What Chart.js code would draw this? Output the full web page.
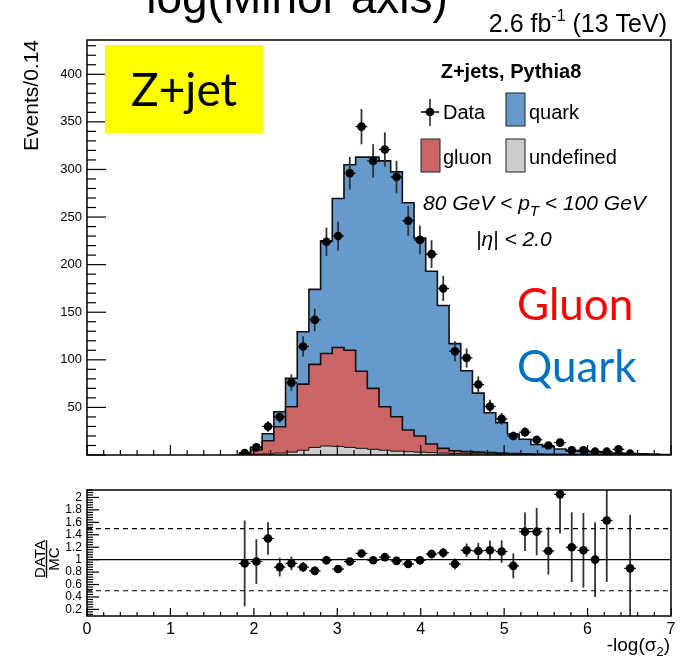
<!DOCTYPE html>
<html>
<head>
<meta charset="utf-8">
<script src="https://cdn.jsdelivr.net/npm/chart.js@4.4.1/dist/chart.umd.min.js"></script>
<style>
  body { margin: 0; background: #fff; width: 686px; height: 668px; position: relative; overflow: hidden; }
  canvas { position: absolute; left: 0; }
  #main { top: 0; }
  #ratio { top: 470px; }
</style>
</head>
<body>
<canvas id="main" width="686" height="470"></canvas>
<canvas id="ratio" width="686" height="198"></canvas>
<script>
// bins (lower edges) of -log(sigma2), width 0.14
const binLo = [1.82, 1.96, 2.10, 2.24, 2.38, 2.52, 2.66, 2.80, 2.94, 3.08,
  3.22, 3.36, 3.50, 3.64, 3.78, 3.92, 4.06, 4.20, 4.34, 4.48,
  4.62, 4.76, 4.90, 5.04, 5.18, 5.32, 5.46, 5.60, 5.74, 5.88,
  6.02, 6.16, 6.30, 6.44, 6.58, 6.72, 6.86];
const binWidth = 0.14;

const dataEvents = [2, 8, 30, 40, 76, 114, 142, 224, 230, 296,
  345, 309, 321, 292, 246, 226, 211, 175, 109, 102,
  74, 51, 38, 20, 24, 16, 10, 13, 5, 5,
  3.5, 3.5, 6, 1.4, null, null, null];

const undefinedMC = [0.3, 0.8, 1.2, 2, 3, 5, 8, 9.5, 9, 8,
  7, 6, 5, 4, 3.5, 3, 2.5, 2, 1.6, 1.3,
  1.1, 1, 0.8, 0.7, 0.6, 0.5, 0.4, 0.35, 0.3, 0.25,
  0.2, 0.2, 0.15, 0.1, 0.1, 0.1, 0.05];
const gluonMC = [0.9, 4.7, 13.8, 27.7, 47.7, 69.5, 87.2, 97.2, 104, 102,
  81, 64, 45.7, 36.2, 22.7, 17, 9, 5, 2.9, 2.2,
  1.9, 1.5, 1.2, 0.8, 0.6, 0.5, 0.4, 0.35, 0.3, 0.25,
  0.2, 0.2, 0.15, 0.2, 0.1, 0.1, 0.05];
const quarkMC = [0.9, 2.7, 7.4, 15.8, 29.8, 55, 78.8, 118.3, 156.5, 195,
  225, 243, 258.3, 257.3, 238.8, 208, 181.5, 150, 112.5, 85,
  62, 41.9, 32, 20.5, 15.3, 10, 8, 5.6, 3.6, 3.5,
  3.1, 1.7, 1.7, 1.3, 1.0, 0.7, 0.5];

// DATA/MC
const ratioVals = [0.94, 0.97, 1.34, 0.88, 0.94, 0.88, 0.82, 0.99, 0.85, 0.97,
  1.10, 0.99, 1.04, 0.98, 0.93, 0.99, 1.09, 1.11, 0.93, 1.15,
  1.14, 1.15, 1.13, 0.90, 1.45, 1.45, 1.14, 2.05, 1.20, 1.15,
  1.00, 1.63, null, 0.86, null, null, null];
const ratioErr = [0.69, 0.36, 0.26, 0.15, 0.11, 0.08, 0.07, 0.07, 0.06, 0.06,
  0.06, 0.06, 0.06, 0.06, 0.06, 0.07, 0.07, 0.08, 0.09, 0.11,
  0.13, 0.16, 0.18, 0.20, 0.31, 0.38, 0.38, 0.63, 0.56, 0.60,
  0.60, 0.99, null, 0.86, null, null, null];

const mainYTicks = [50, 100, 150, 200, 250, 300, 350, 400];
const ratioYTicks = [0.2, 0.4, 0.6, 0.8, 1, 1.2, 1.4, 1.6, 1.8, 2];
const xTicks = [0, 1, 2, 3, 4, 5, 6, 7];

const HELV = "'Liberation Sans', Arial, sans-serif";
const CALIBRI = "Lato, 'Open Sans', sans-serif";
Chart.defaults.font.family = HELV;
Chart.defaults.color = '#000';

const centers = binLo.map(x => x + binWidth / 2);

// stacked histogram tops
const greyTop = undefinedMC;
const redTop = greyTop.map((v, i) => v + gluonMC[i]);
const blueTop = redTop.map((v, i) => v + quarkMC[i]);

function steps(vals) {
  const pts = binLo.map((x, i) => ({ x: x, y: vals[i] }));
  pts.push({ x: binLo[binLo.length - 1] + binWidth, y: vals[vals.length - 1] });
  return pts;
}

const dataPts = [];
dataEvents.forEach((v, i) => { if (v !== null) dataPts.push({ x: centers[i], y: v, e: Math.sqrt(v) }); });
const ratioPts = [];
ratioVals.forEach((v, i) => { if (v !== null) ratioPts.push({ x: centers[i], y: v, e: ratioErr[i] }); });

// error bars for dataset 0
const errorBars = {
  id: 'errorBars',
  beforeDatasetDraw(chart, args, opts) {
    if (args.index !== 0) return;
    const { ctx, chartArea: a } = chart;
    const xs = chart.scales.x, ys = chart.scales.y;
    ctx.save();
    ctx.beginPath();
    ctx.rect(a.left, a.top, a.right - a.left, a.bottom - a.top);
    ctx.clip();
    opts.points.forEach(p => {
      const px = xs.getPixelForValue(p.x), py = ys.getPixelForValue(p.y);
      ctx.strokeStyle = '#333';
      ctx.lineWidth = 1.8;
      ctx.beginPath();
      ctx.moveTo(px, ys.getPixelForValue(p.y - p.e));
      ctx.lineTo(px, ys.getPixelForValue(p.y + p.e));
      ctx.stroke();
      ctx.strokeStyle = '#000';
      ctx.lineWidth = 1.2;
      ctx.beginPath();
      ctx.moveTo(xs.getPixelForValue(p.x - binWidth / 2), py);
      ctx.lineTo(xs.getPixelForValue(p.x + binWidth / 2), py);
      ctx.stroke();
    });
    ctx.restore();
  }
};

// frame, inward ticks and reference lines
const axesBox = {
  id: 'axesBox',
  afterDatasetsDraw(chart, args, opts) {
    const { ctx, chartArea: a } = chart;
    const xs = chart.scales.x, ys = chart.scales.y;
    ctx.save();
    (opts.refLines || []).forEach(r => {
      const py = ys.getPixelForValue(r.y);
      ctx.strokeStyle = '#000';
      ctx.lineWidth = r.dash ? 1.2 : 1.4;
      ctx.setLineDash(r.dash ? [5, 4] : []);
      ctx.beginPath();
      ctx.moveTo(a.left, py);
      ctx.lineTo(a.right, py);
      ctx.stroke();
    });
    ctx.setLineDash([]);
    ctx.strokeStyle = '#000';
    ctx.lineWidth = 1.2;
    const t = opts.ticks;
    const nx = Math.round((xs.max - xs.min) / t.xMinor);
    for (let i = 0; i <= nx; i++) {
      const v = xs.min + i * t.xMinor;
      const px = xs.getPixelForValue(v);
      const len = i % t.xPer === 0 ? t.xMajLen : t.xMinLen;
      ctx.beginPath();
      ctx.moveTo(px, a.bottom);
      ctx.lineTo(px, a.bottom - len);
      ctx.stroke();
    }
    const k0 = Math.ceil(ys.min / t.yMinor - 1e-6), k1 = Math.floor(ys.max / t.yMinor + 1e-6);
    for (let k = k0; k <= k1; k++) {
      const py = ys.getPixelForValue(k * t.yMinor);
      const len = k % t.yPer === 0 ? t.yMajLen : t.yMinLen;
      ctx.beginPath();
      ctx.moveTo(a.left, py);
      ctx.lineTo(a.left + len, py);
      ctx.stroke();
    }
    ctx.lineWidth = 1.5;
    ctx.strokeRect(a.left, a.top, a.right - a.left, a.bottom - a.top);
    ctx.restore();
  }
};

function rich(ctx, parts, x, y, align, font) {
  let w = 0;
  parts.forEach(p => { ctx.font = font(p.s); w += ctx.measureText(p.t).width; });
  let cx = align === 'right' ? x - w : align === 'center' ? x - w / 2 : x;
  ctx.textAlign = 'left';
  parts.forEach(p => {
    ctx.font = font(p.s);
    ctx.fillText(p.t, cx, y + (p.dy || 0));
    cx += ctx.measureText(p.t).width;
  });
}

const mainText = {
  id: 'mainText',
  afterDraw(chart) {
    const ctx = chart.ctx;
    ctx.save();
    ctx.fillStyle = '#000';
    ctx.textBaseline = 'alphabetic';
    ctx.textAlign = 'center';
    ctx.font = '46px ' + HELV;
    ctx.fillText('log(Minor axis)', 297, 13);

    rich(ctx, [{ t: '2.6 fb', s: 25 }, { t: '-1', s: 16, dy: -11 }, { t: ' (13 TeV)', s: 25 }],
      667, 32, 'right', s => s + 'px ' + HELV);

    ctx.save();
    ctx.translate(32, 40);
    ctx.rotate(-Math.PI / 2);
    ctx.textAlign = 'right';
    ctx.textBaseline = 'middle';
    ctx.font = '21px ' + HELV;
    ctx.fillText('Events/0.14', 0, 0);
    ctx.restore();

    // Z+jet box
    ctx.fillStyle = '#ffff00';
    ctx.fillRect(105, 45, 158, 88);
    ctx.fillStyle = '#000';
    ctx.textAlign = 'center';
    ctx.font = '46px ' + CALIBRI;
    ctx.fillText('Z+jet', 184, 106);

    // legend
    ctx.font = 'bold 20px ' + HELV;
    ctx.fillText('Z+jets, Pythia8', 511, 78);
    ctx.strokeStyle = '#000';
    ctx.lineWidth = 1.3;
    ctx.beginPath();
    ctx.moveTo(421, 112); ctx.lineTo(439, 112);
    ctx.moveTo(430, 99); ctx.lineTo(430, 126);
    ctx.stroke();
    ctx.beginPath();
    ctx.arc(430, 112, 4.3, 0, Math.PI * 2);
    ctx.fill();
    const boxes = [[506, 93, '#6699cc'], [421, 139, '#cc6666'], [506, 139, '#cccccc']];
    boxes.forEach(b => {
      ctx.fillStyle = b[2];
      ctx.fillRect(b[0], b[1], 19, 33);
      ctx.strokeStyle = '#222';
      ctx.lineWidth = 1;
      ctx.strokeRect(b[0], b[1], 19, 33);
    });
    ctx.fillStyle = '#000';
    ctx.textAlign = 'left';
    ctx.font = '20px ' + HELV;
    ctx.fillText('Data', 443, 119);
    ctx.fillText('quark', 529, 119);
    ctx.fillText('gluon', 443, 164);
    ctx.fillText('undefined', 529, 164);

    rich(ctx, [{ t: '80 GeV < p', s: 21 }, { t: 'T', s: 15, dy: 6 }, { t: ' < 100 GeV', s: 21 }],
      423, 210, 'left', s => 'italic ' + s + 'px ' + HELV);
    ctx.font = 'italic 21px ' + HELV;
    ctx.fillText('|\u03b7| < 2.0', 476, 246);

    ctx.font = '44px ' + CALIBRI;
    ctx.fillStyle = '#ff0000';
    ctx.fillText('Gluon', 517, 320);
    ctx.fillStyle = '#0070c0';
    ctx.fillText('Quark', 517, 382);
    ctx.restore();
  }
};

const ratioText = {
  id: 'ratioText',
  afterDraw(chart) {
    const ctx = chart.ctx;
    ctx.save();
    ctx.fillStyle = '#000';
    ctx.translate(46.5, 89);
    ctx.rotate(-Math.PI / 2);
    ctx.font = '15px ' + HELV;
    ctx.textAlign = 'center';
    ctx.textBaseline = 'alphabetic';
    const w = ctx.measureText('DATA').width;
    ctx.fillText('DATA', 0, -2);
    ctx.fillText('MC', 0, 12.5);
    ctx.lineWidth = 1.4;
    ctx.beginPath();
    ctx.moveTo(-w / 2, 0); ctx.lineTo(w / 2, 0);
    ctx.stroke();
    ctx.restore();

    ctx.save();
    ctx.fillStyle = '#000';
    rich(ctx, [{ t: '-log(\u03c3', s: 19 }, { t: '2', s: 13, dy: 5 }, { t: ')', s: 19 }],
      670, 181, 'right', s => s + 'px ' + HELV);
    ctx.restore();
  }
};

const histLine = (vals, color, bw) => ({
  data: steps(vals), stepped: true, fill: 'origin', backgroundColor: color,
  borderColor: '#111', borderWidth: bw, pointRadius: 0, tension: 0
});

new Chart(document.getElementById('main'), {
  type: 'line',
  data: {
    datasets: [
      { data: dataPts, showLine: false, pointRadius: 4.3, pointBackgroundColor: '#000', pointBorderWidth: 0 },
      histLine(greyTop, '#cccccc', 1),
      histLine(redTop, '#cc6666', 1.6),
      histLine(blueTop, '#6699cc', 1.6)
    ]
  },
  options: {
    responsive: false,
    animation: false,
    devicePixelRatio: 1,
    layout: { padding: { top: 40, right: 15, left: 0, bottom: 0 } },
    plugins: {
      legend: { display: false },
      tooltip: { enabled: false },
      errorBars: { points: dataPts },
      axesBox: { ticks: { xMinor: 0.2, xPer: 5, xMajLen: 10, xMinLen: 5, yMinor: 10, yPer: 5, yMajLen: 19, yMinLen: 9 } }
    },
    scales: {
      x: {
        type: 'linear', min: 0, max: 7,
        ticks: { display: false },
        grid: { display: false, drawTicks: false },
        border: { display: false },
        afterFit: s => { s.height = 15; }
      },
      y: {
        type: 'linear', min: 0, max: 436,
        afterBuildTicks: s => { s.ticks = mainYTicks.map(v => ({ value: v })); },
        ticks: { font: { size: 13 }, padding: 5, color: '#000', autoSkip: false },
        grid: { display: false, drawTicks: false },
        border: { display: false },
        afterFit: s => { s.width = 87; }
      }
    }
  },
  plugins: [errorBars, axesBox, mainText]
});

new Chart(document.getElementById('ratio'), {
  type: 'line',
  data: {
    datasets: [
      { data: ratioPts, showLine: false, pointRadius: 4.3, pointBackgroundColor: '#000', pointBorderWidth: 0 }
    ]
  },
  options: {
    responsive: false,
    animation: false,
    devicePixelRatio: 1,
    layout: { padding: { top: 20, right: 15, left: 0, bottom: 0 } },
    plugins: {
      legend: { display: false },
      tooltip: { enabled: false },
      errorBars: { points: ratioPts },
      axesBox: {
        refLines: [{ y: 0.5, dash: true }, { y: 1 }, { y: 1.5, dash: true }],
        ticks: { xMinor: 0.2, xPer: 5, xMajLen: 8, xMinLen: 4, yMinor: 0.04, yPer: 5, yMajLen: 12, yMinLen: 6 }
      }
    },
    scales: {
      x: {
        type: 'linear', min: 0, max: 7,
        afterBuildTicks: s => { s.ticks = xTicks.map(v => ({ value: v })); },
        ticks: { font: { size: 16 }, padding: 4, color: '#000', autoSkip: false, maxRotation: 0 },
        grid: { display: false, drawTicks: false },
        border: { display: false },
        afterFit: s => { s.height = 52; }
      },
      y: {
        type: 'linear', min: 0.094, max: 2.12,
        afterBuildTicks: s => { s.ticks = ratioYTicks.map(v => ({ value: v })); },
        ticks: { font: { size: 12 }, padding: 5, color: '#000', autoSkip: false, callback: v => String(+v.toFixed(1)) },
        grid: { display: false, drawTicks: false },
        border: { display: false },
        afterFit: s => { s.width = 87; }
      }
    }
  },
  plugins: [errorBars, axesBox, ratioText]
});
</script>
</body>
</html>
